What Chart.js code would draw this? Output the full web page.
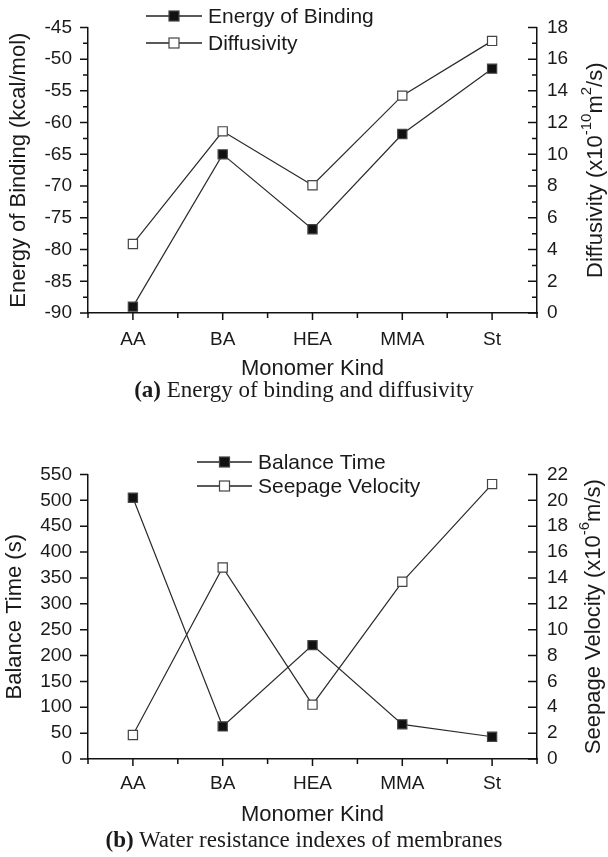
<!DOCTYPE html>
<html>
<head>
<meta charset="utf-8">
<script src="https://cdn.jsdelivr.net/npm/chart.js@4"></script>
<style>
  body { margin: 0; background: #fff; }
  #wrap { position: relative; width: 608px; height: 857px; }
  canvas { position: absolute; left: 0; }
  .cap {
    position: absolute; left: 0; width: 608px; text-align: center;
    font-family: "Liberation Serif", "Times New Roman", serif;
    font-size: 23px; line-height: 23px; color: #1a1a1a;
  }
</style>
</head>
<body>
<div id="wrap">
  <canvas id="chartA" width="608" height="384" style="top:0"></canvas>
  <canvas id="chartB" width="608" height="383" style="top:447px"></canvas>
  <div class="cap" style="top:378px"><b>(a)</b> Energy of binding and diffusivity</div>
  <div class="cap" style="top:828px"><b>(b)</b> Water resistance indexes of membranes</div>
</div>
<script>
const monomers = ["AA", "BA", "HEA", "MMA", "St"];

// (a) energy of binding (kcal/mol) and diffusivity (x10^-10 m2/s)
const bindingEnergy = [-89.0, -65.0, -76.8, -61.8, -51.5];
const diffusivity = [4.35, 11.45, 8.05, 13.7, 17.15];

// (b) balance time (s) and seepage velocity (x10^-6 m/s)
const balanceTime = [505, 63, 220, 67, 43];
const seepageVelocity = [1.85, 14.8, 4.2, 13.7, 21.25];

const energyTicks = [-90, -85, -80, -75, -70, -65, -60, -55, -50, -45];
const diffusivityTicks = [0, 2, 4, 6, 8, 10, 12, 14, 16, 18];
const balanceTicks = [0, 50, 100, 150, 200, 250, 300, 350, 400, 450, 500, 550];
const seepageTicks = [0, 2, 4, 6, 8, 10, 12, 14, 16, 18, 20, 22];

const SANS = '"Liberation Sans", Arial, Helvetica, sans-serif';
const INK = "#1a1a1a";
Chart.defaults.font.family = SANS;
Chart.defaults.color = INK;

// tick marks: x ticks out, left ticks out, right ticks pointing in
const axisTicks = {
  id: "axisTicks",
  afterDraw(chart, args, opts) {
    const ctx = chart.ctx;
    const x = chart.scales.x, yl = chart.scales.y, yr = chart.scales.y1;
    ctx.save();
    ctx.strokeStyle = "#111";
    ctx.lineWidth = 1.5;
    ctx.beginPath();
    monomers.forEach((m, i) => {
      const px = x.getPixelForValue(i);
      ctx.moveTo(px, x.top); ctx.lineTo(px, x.top + 7);
    });
    for (let i = 0; i <= monomers.length; i++) {
      const px = x.getPixelForValue(i - 0.5);
      ctx.moveTo(px, x.top); ctx.lineTo(px, x.top + 5);
    }
    const lt = yl.ticks.map(t => t.value);
    lt.forEach(v => {
      const py = yl.getPixelForValue(v);
      ctx.moveTo(yl.right, py); ctx.lineTo(yl.right - 8, py);
    });
    if (opts.minor) {
      for (let i = 0; i < lt.length - 1; i++) {
        const py = yl.getPixelForValue((lt[i] + lt[i + 1]) / 2);
        ctx.moveTo(yl.right, py); ctx.lineTo(yl.right - 5, py);
      }
    }
    const rt = yr.ticks.map(t => t.value);
    rt.forEach(v => {
      const py = yr.getPixelForValue(v);
      ctx.moveTo(yr.left, py); ctx.lineTo(yr.left - 9, py);
    });
    if (opts.minor) {
      for (let i = 0; i < rt.length - 1; i++) {
        const py = yr.getPixelForValue((rt[i] + rt[i + 1]) / 2);
        ctx.moveTo(yr.left, py); ctx.lineTo(yr.left - 5, py);
      }
    }
    ctx.stroke();
    ctx.restore();
  }
};

// right axis title, reading upwards, with superscripts
const rightTitle = {
  id: "rightTitle",
  afterDraw(chart, args, opts) {
    const ctx = chart.ctx;
    const area = chart.chartArea;
    const size = 22;
    const main = size + "px " + SANS;
    const sup = "15px " + SANS;
    let total = 0;
    opts.parts.forEach(p => {
      ctx.font = p.sup ? sup : main;
      p.w = ctx.measureText(p.t).width;
      total += p.w;
    });
    ctx.save();
    ctx.translate(opts.x, (area.top + area.bottom) / 2);
    ctx.rotate(-Math.PI / 2);
    ctx.fillStyle = INK;
    ctx.textBaseline = "middle";
    ctx.textAlign = "left";
    let cx = -total / 2;
    opts.parts.forEach(p => {
      ctx.font = p.sup ? sup : main;
      ctx.fillText(p.t, cx, p.sup ? -9 : 0);
      cx += p.w;
    });
    ctx.restore();
  }
};

// legend inside the plot: line + marker + label
const lineLegend = {
  id: "lineLegend",
  afterDraw(chart, args, opts) {
    const ctx = chart.ctx;
    ctx.save();
    chart.data.datasets.forEach((ds, i) => {
      const y = opts.rows[i];
      ctx.strokeStyle = "#222";
      ctx.lineWidth = 1.3;
      ctx.beginPath();
      ctx.moveTo(opts.x0, y); ctx.lineTo(opts.x1, y);
      ctx.stroke();
      const mx = (opts.x0 + opts.x1) / 2;
      ctx.fillStyle = ds.pointBackgroundColor;
      ctx.fillRect(mx - 5, y - 5, 10, 10);
      ctx.strokeStyle = ds.pointBorderColor;
      ctx.lineWidth = 1.2;
      ctx.strokeRect(mx - 5, y - 5, 10, 10);
      ctx.fillStyle = INK;
      ctx.font = "21px " + SANS;
      ctx.textBaseline = "middle";
      ctx.textAlign = "left";
      ctx.fillText(ds.label, opts.tx, y + 1);
    });
    ctx.restore();
  }
};

function series(label, data, axis, filled) {
  return {
    label: label,
    data: data,
    yAxisID: axis,
    borderColor: "#2a2a2a",
    borderWidth: 1.2,
    tension: 0,
    pointStyle: "rect",
    pointRadius: 6.5,
    pointHoverRadius: 6.5,
    pointBackgroundColor: filled ? "#111" : "#fff",
    pointBorderColor: filled ? "#444" : "#444",
    pointBorderWidth: 1.2,
    clip: false
  };
}

function makeChart(id, c) {
  const border = { display: true, color: "#111", width: 1.5 };
  return new Chart(document.getElementById(id), {
    type: "line",
    data: { labels: monomers, datasets: c.datasets },
    options: {
      responsive: false,
      animation: false,
      layout: { padding: { top: 15, left: 0, right: 0, bottom: 0 } },
      plugins: {
        legend: { display: false },
        tooltip: { enabled: false },
        axisTicks: { minor: c.minor },
        rightTitle: { parts: c.rightTitle, x: c.rightTitleX },
        lineLegend: c.legend
      },
      scales: {
        x: {
          type: "category",
          offset: true,
          grid: { display: false, drawTicks: false },
          border: border,
          ticks: { font: { size: 19 }, padding: c.xPad, maxRotation: 0, autoSkip: false },
          title: { display: true, text: "Monomer Kind", font: { size: 22 }, padding: { top: 0, bottom: 2 } },
          afterFit(s) { s.height = 71; }
        },
        y: {
          position: "left",
          min: c.left.ticks[0],
          max: c.left.ticks[c.left.ticks.length - 1],
          afterBuildTicks(s) { s.ticks = c.left.ticks.map(v => ({ value: v })); },
          grid: { display: false, drawTicks: false },
          border: border,
          ticks: { font: { size: 19 }, padding: 16 },
          title: { display: true, text: c.left.title, font: { size: 22 }, padding: { top: c.left.titlePad, bottom: 0 } },
          afterFit(s) { s.width = 88; }
        },
        y1: {
          position: "right",
          min: c.right.ticks[0],
          max: c.right.ticks[c.right.ticks.length - 1],
          afterBuildTicks(s) { s.ticks = c.right.ticks.map(v => ({ value: v })); },
          grid: { display: false, drawTicks: false },
          border: border,
          ticks: { font: { size: 19 }, padding: 10 },
          afterFit(s) { s.width = 71; }
        }
      }
    },
    plugins: [axisTicks, rightTitle, lineLegend]
  });
}

makeChart("chartA", {
  datasets: [
    series("Energy of Binding", bindingEnergy, "y", true),
    series("Diffusivity", diffusivity, "y1", false)
  ],
  left: { ticks: energyTicks, title: "Energy of Binding (kcal/mol)", titlePad: 6 },
  right: { ticks: diffusivityTicks },
  rightTitle: [{ t: "Diffusivity (x10" }, { t: "-10", sup: true }, { t: "m" }, { t: "2", sup: true }, { t: "/s)" }],
  rightTitleX: 596,
  minor: true,
  xPad: 15,
  legend: { x0: 146, x1: 202, tx: 208, rows: [16, 43] }
});

makeChart("chartB", {
  datasets: [
    series("Balance Time", balanceTime, "y", true),
    series("Seepage Velocity", seepageVelocity, "y1", false)
  ],
  left: { ticks: balanceTicks, title: "Balance Time (s)", titlePad: 2 },
  right: { ticks: seepageTicks },
  rightTitle: [{ t: "Seepage Velocity (x10" }, { t: "-6", sup: true }, { t: "m/s)" }],
  rightTitleX: 594,
  minor: false,
  xPad: 13,
  legend: { x0: 197, x1: 252, tx: 258, rows: [15, 39] }
});
</script>
</body>
</html>
